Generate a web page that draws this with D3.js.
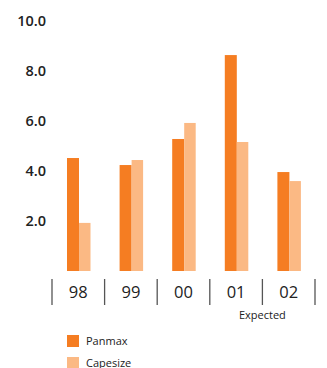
<!DOCTYPE html>
<html>
<head>
<meta charset="utf-8">
<script src="https://cdn.jsdelivr.net/npm/d3@7"></script>
<style>
  body { margin: 0; background: #fff; }
  text { font-family: "Open Sans", "Noto Sans", sans-serif; }
</style>
</head>
<body>
<svg id="chart" width="327" height="368"></svg>
<script>
const years = ["98", "99", "00", "01", "02"];
const panmax = [4.51, 4.23, 5.27, 8.62, 3.95];
const capesize = [1.92, 4.43, 5.91, 5.15, 3.59];
const yTicks = [2, 4, 6, 8, 10];
const seriesNames = ["Panmax", "Capesize"];
const colors = ["#f57d22", "#fbb984"];

const svg = d3.select("#chart");

const x = d3.scaleBand().domain(years).range([52, 315]);
const y = d3.scaleLinear().domain([0, 10]).range([271, 20.5]);

// y tick labels only, no axis line
svg.append("g")
    .selectAll("text")
    .data(yTicks)
    .enter().append("text")
    .attr("x", 46)
    .attr("y", d => y(d))
    .attr("dy", "0.35em")
    .attr("text-anchor", "end")
    .attr("font-size", 14.5)
    .attr("font-weight", 600)
    .attr("fill", "#222")
    .text(d => d.toFixed(1));

// bars
const barW = 12;
const groups = svg.append("g")
    .selectAll("g")
    .data(years)
    .enter().append("g")
    .attr("transform", d => `translate(${x(d) + 15},0)`);

groups.append("rect")
    .attr("x", 0)
    .attr("width", barW)
    .attr("y", (d, i) => y(panmax[i]))
    .attr("height", (d, i) => y(0) - y(panmax[i]))
    .attr("fill", colors[0]);

groups.append("rect")
    .attr("x", barW)
    .attr("width", barW - 0.5)
    .attr("y", (d, i) => y(capesize[i]))
    .attr("height", (d, i) => y(0) - y(capesize[i]))
    .attr("fill", colors[1]);

// category dividers and labels
const dividers = years.map(d => x(d)).concat([x.range()[1]]);
svg.append("g")
    .selectAll("line")
    .data(dividers)
    .enter().append("line")
    .attr("x1", d => d).attr("x2", d => d)
    .attr("y1", 279).attr("y2", 305)
    .attr("stroke", "#555")
    .attr("stroke-width", 1.3);

svg.append("g")
    .selectAll("text")
    .data(years)
    .enter().append("text")
    .attr("x", d => x(d) + x.bandwidth() / 2)
    .attr("y", 292)
    .attr("dy", "0.35em")
    .attr("text-anchor", "middle")
    .attr("font-size", 16.5)
    .attr("fill", "#222")
    .text(d => d);

svg.append("text")
    .attr("x", x("02"))
    .attr("y", 315)
    .attr("dy", "0.35em")
    .attr("text-anchor", "middle")
    .attr("font-size", 11)
    .attr("fill", "#222")
    .text("Expected");

// legend
const legend = svg.append("g")
    .selectAll("g")
    .data(seriesNames)
    .enter().append("g")
    .attr("transform", (d, i) => `translate(67,${335 + i * 22})`);

legend.append("rect")
    .attr("width", 12).attr("height", 12)
    .attr("fill", (d, i) => colors[i]);

legend.append("text")
    .attr("x", 19)
    .attr("y", 6)
    .attr("dy", "0.35em")
    .attr("font-size", 11)
    .attr("fill", "#222")
    .text(d => d);
</script>
</body>
</html>
